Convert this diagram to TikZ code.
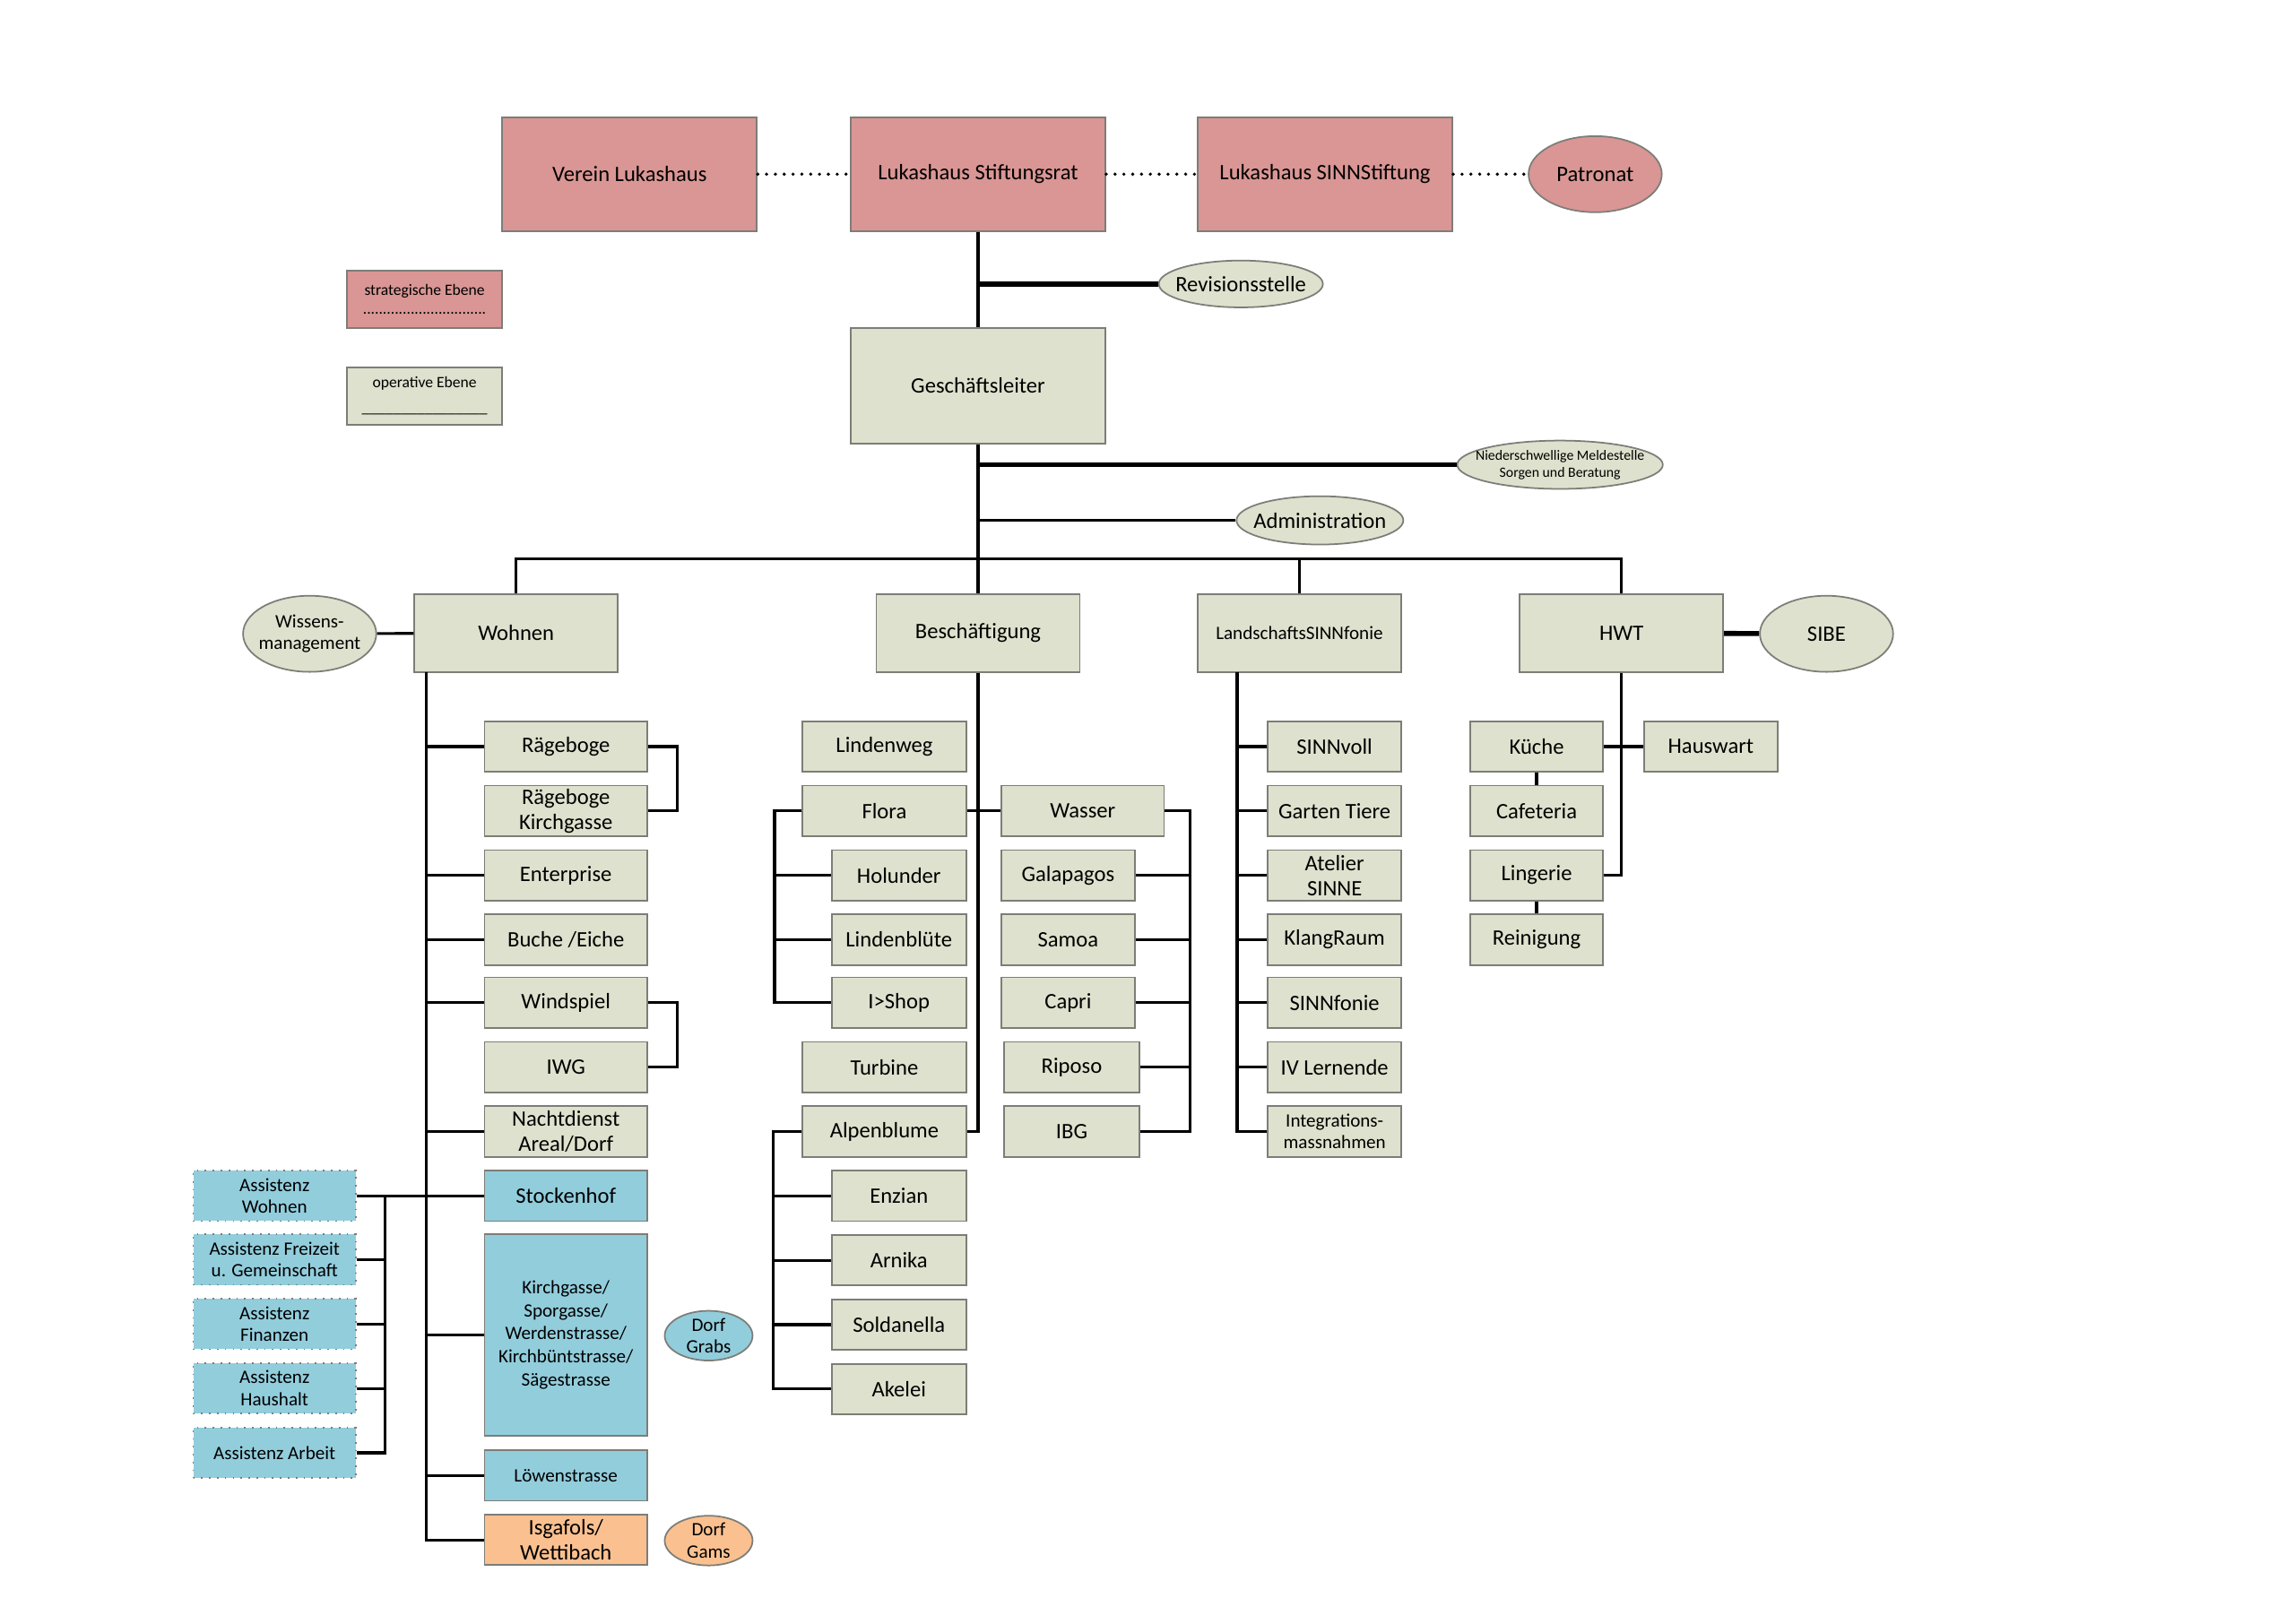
\documentclass[tikz,border=0pt]{standalone}
\usepackage{fontspec}
\setmainfont{Carlito}
\usetikzlibrary{shapes.geometric}
\newcommand{\pxu}{0.016332cm}
\definecolor{stratred}{RGB}{217,150,148}
\definecolor{opgrey}{RGB}{222,225,205}
\definecolor{wohnblue}{RGB}{146,205,220}
\definecolor{gamsorange}{RGB}{250,192,144}
\definecolor{framegrey}{RGB}{125,125,120}
\tikzset{
    %Box and connector styles
    boxdim/.style 2 args={minimum width=#1*\pxu, minimum height=#2*\pxu},
    orgbox/.style={rectangle, draw=framegrey, line width=0.5pt, inner sep=0pt},
    redbox/.style={orgbox, fill=stratred, boxdim={174}{78}},
    headbox/.style={orgbox, fill=opgrey, boxdim={139}{53}},
    opbox/.style={orgbox, fill=opgrey, boxdim={111}{34.5}},
    narrowbox/.style={orgbox, fill=opgrey, boxdim={91}{34.5}},
    bluebox/.style={orgbox, fill=wohnblue, boxdim={111}{34.5}},
    assbox/.style={bluebox, dotted},
    oval/.style={ellipse, draw=framegrey, line width=0.5pt, fill=opgrey, inner ysep=0pt, inner xsep=-5*\pxu, boxdim={91}{52}},
    smalltext/.style={font=\fontsize{6}{7}\selectfont},
    conn/.style={line width=0.9pt},
    boldconn/.style={line width=1.6pt},
    dotline/.style={line width=1.1pt, line cap=round, dash pattern=on 0pt off 2.8pt}
}

\begin{document}
\begin{tikzpicture}[x=\pxu, y=-\pxu, font=\fontsize{7}{8}\selectfont, every text node part/.style={align=center}]

	\fill[white] (0,0) rectangle (1567.5,1108.9);
	\useasboundingbox (0,0) rectangle (1567.5,1108.9);

	% strategic level
	\node (verein) at (430,119) [redbox] {Verein Lukashaus};
	\node (stiftungsrat) at (668,119) [redbox] {Lukashaus Stiftungsrat};
	\node (sinnstiftung) at (905,119) [redbox] {Lukashaus SINNStiftung};
	\node (patronat) at (1089.5,119) [oval, fill=stratred] {Patronat};

	% legend
	\node (legstrat) at (290,204.5) [orgbox, fill=stratred, boxdim={106}{39}, font=\fontsize{5}{6}\selectfont] {strategische Ebene\\...............................};
	\node (legop) at (290,270.5) [orgbox, fill=opgrey, boxdim={106}{39}, font=\fontsize{5}{6}\selectfont] {operative Ebene\\[2pt]\_\_\_\_\_\_\_\_\_\_\_\_\_\_\_\_};

	\node (revision) at (847.5,194) [oval, boxdim={111}{32}] {Revisionsstelle};
	\node (geschaeft) at (668,263.5) [orgbox, fill=opgrey, boxdim={174}{79}] {Geschäftsleiter};
	\node (meldestelle) at (1065.5,317.5) [oval, boxdim={139}{33}, inner xsep=-8*\pxu, font=\fontsize{4.5}{5.5}\selectfont] {Niederschwellige Meldestelle\\Sorgen und Beratung};
	\node (admin) at (901.5,355.5) [oval, boxdim={111}{33}] {Administration};

	% departments
	\node (wohnen) at (352.5,432.5) [headbox] {Wohnen};
	\node (besch) at (668,432.5) [headbox] {Beschäftigung};
	\node (landschaft) at (887.5,432.5) [headbox, smalltext] {LandschaftsSINNfonie};
	\node (hwt) at (1107.5,432.5) [headbox] {HWT};
	\node (wissen) at (211.5,433) [oval, smalltext] {Wissens-\\management};
	\node (sibe) at (1247.5,433) [oval] {SIBE};

	% Wohnen
	\node (raegeboge) at (386.5,510) [opbox] {Rägeboge};
	\node (raegkirch) at (386.5,554) [opbox] {Rägeboge\\Kirchgasse};
	\node (enterprise) at (386.5,598) [opbox] {Enterprise};
	\node (buche) at (386.5,642) [opbox] {Buche /Eiche};
	\node (windspiel) at (386.5,685) [opbox] {Windspiel};
	\node (iwg) at (386.5,729) [opbox] {IWG};
	\node (nachtdienst) at (386.5,773) [opbox] {Nachtdienst\\Areal/Dorf};
	\node (stockenhof) at (386.5,817) [bluebox] {Stockenhof};
	\node (kirchgasse) at (386.5,912) [bluebox, boxdim={111}{138}, font=\fontsize{6}{7.3}\selectfont] {Kirchgasse/\\Sporgasse/\\Werdenstrasse/\\Kirchbüntstrasse/\\Sägestrasse};
	\node (loewen) at (386.5,1008) [bluebox, smalltext] {Löwenstrasse};
	\node (isgafols) at (386.5,1052) [opbox, fill=gamsorange] {Isgafols/\\Wettibach};
	\node (grabs) at (484,912.5) [oval, fill=wohnblue, boxdim={60}{31}, smalltext] {Dorf\\Grabs};
	\node (gams) at (484,1052.5) [oval, fill=gamsorange, boxdim={60}{31}, smalltext] {Dorf\\Gams};

	\node (asswohnen) at (187.5,817) [assbox, smalltext] {Assistenz\\Wohnen};
	\node (assfreizeit) at (187.5,860.5) [assbox, smalltext] {Assistenz Freizeit\\u. Gemeinschaft};
	\node (assfinanzen) at (187.5,904.5) [assbox, smalltext] {Assistenz\\Finanzen};
	\node (asshaushalt) at (187.5,948.5) [assbox, smalltext] {Assistenz\\Haushalt};
	\node (assarbeit) at (187.5,992.5) [assbox, smalltext] {Assistenz Arbeit};

	% Beschaeftigung
	\node (lindenweg) at (604,510) [opbox, boxdim={112}{34.5}] {Lindenweg};
	\node (flora) at (604,554) [opbox, boxdim={112}{34.5}] {Flora};
	\node (holunder) at (614,598) [narrowbox, boxdim={92}{34.5}] {Holunder};
	\node (lindenbluete) at (614,642) [narrowbox, boxdim={92}{34.5}] {Lindenblüte};
	\node (ishop) at (614,685) [narrowbox, boxdim={92}{34.5}] {I>Shop};
	\node (turbine) at (604,729) [opbox, boxdim={112}{34.5}] {Turbine};
	\node (alpenblume) at (604,773) [opbox, boxdim={112}{34.5}] {Alpenblume};
	\node (enzian) at (614,817) [narrowbox, boxdim={92}{34.5}] {Enzian};
	\node (arnika) at (614,861) [narrowbox, boxdim={92}{34.5}] {Arnika};
	\node (soldanella) at (614,905) [narrowbox, boxdim={92}{34.5}] {Soldanella};
	\node (akelei) at (614,949) [narrowbox, boxdim={92}{34.5}] {Akelei};

	\node (wasser) at (739.5,554) [opbox] {Wasser};
	\node (galapagos) at (729.5,598) [narrowbox] {Galapagos};
	\node (samoa) at (729.5,642) [narrowbox] {Samoa};
	\node (capri) at (729.5,685) [narrowbox] {Capri};
	\node (riposo) at (732,729) [narrowbox, boxdim={92}{34.5}] {Riposo};
	\node (ibg) at (732,773) [narrowbox, boxdim={92}{34.5}] {IBG};

	% LandschaftsSINNfonie
	\node (sinnvoll) at (911.5,510) [narrowbox] {SINNvoll};
	\node (garten) at (911.5,554) [narrowbox] {Garten Tiere};
	\node (atelier) at (911.5,598) [narrowbox] {Atelier\\SINNE};
	\node (klang) at (911.5,642) [narrowbox] {KlangRaum};
	\node (sinnfonie) at (911.5,685) [narrowbox] {SINNfonie};
	\node (lernende) at (911.5,729) [narrowbox] {IV Lernende};
	\node (integration) at (911.5,773) [narrowbox, smalltext] {Integrations-\\massnahmen};

	% HWT
	\node (kueche) at (1049.5,510) [narrowbox] {Küche};
	\node (hauswart) at (1168.5,510) [narrowbox] {Hauswart};
	\node (cafeteria) at (1049.5,554) [narrowbox] {Cafeteria};
	\node (lingerie) at (1049.5,598) [narrowbox] {Lingerie};
	\node (reinigung) at (1049.5,642) [narrowbox] {Reinigung};

	% connectors, top
	\draw[dotline] (verein) -- (stiftungsrat);
	\draw[dotline] (stiftungsrat) -- (sinnstiftung);
	\draw[dotline] (sinnstiftung) -- (patronat);
	\draw[conn] (stiftungsrat) -- (geschaeft);
	\draw[boldconn] (stiftungsrat.south |- revision) -- (revision);
	\draw[conn] (geschaeft) -- (besch);
	\draw[boldconn] (geschaeft.south |- meldestelle) -- (meldestelle);
	\draw[conn] (geschaeft.south |- admin) -- (admin);
	\coordinate (bus) at (668,382);
	\draw[conn] (wohnen.north) |- (bus) -| (hwt.north);
	\draw[conn] (landschaft.north) -- (landschaft.north |- bus);
	\draw[conn] (wissen) -- (wohnen);
	\draw[boldconn] (hwt) -- (sibe);

	% connectors, Wohnen
	\coordinate (wtrunk) at (291,459);
	\draw[conn] (wtrunk) |- (isgafols.west);
	\foreach \n in {raegeboge,enterprise,buche,windspiel,nachtdienst,kirchgasse,loewen}
		\draw[conn] (\n.west) -- (\n.west -| wtrunk);
	\draw[conn] (raegeboge.east) -- ++(20,0) |- (raegkirch.east);
	\draw[conn] (windspiel.east) -- ++(20,0) |- (iwg.east);
	\draw[conn] (asswohnen) -- (stockenhof);
	\coordinate (assbus) at (263,817);
	\draw[conn] (assbus) |- (assarbeit.east);
	\foreach \n in {assfreizeit,assfinanzen,asshaushalt}
		\draw[conn] (\n.east) -- (\n.east -| assbus);

	% connectors, Beschaeftigung
	\draw[conn] (besch.south) |- (alpenblume.east);
	\draw[conn] (flora) -- (wasser);
	\coordinate (florabus) at (529,554);
	\draw[conn] (flora.west) -- (florabus) |- (ishop.west);
	\foreach \n in {holunder,lindenbluete}
		\draw[conn] (\n.west) -- (\n.west -| florabus);
	\coordinate (alpbus) at (528,773);
	\draw[conn] (alpenblume.west) -- (alpbus) |- (akelei.west);
	\foreach \n in {enzian,arnika,soldanella}
		\draw[conn] (\n.west) -- (\n.west -| alpbus);
	\coordinate (wasserbus) at (813,554);
	\draw[conn] (wasser.east) -- (wasserbus) |- (ibg.east);
	\foreach \n in {galapagos,samoa,capri,riposo}
		\draw[conn] (\n.east) -- (\n.east -| wasserbus);

	% connectors, LandschaftsSINNfonie
	\coordinate (ltrunk) at (845,459);
	\draw[conn] (ltrunk) |- (integration.west);
	\foreach \n in {sinnvoll,garten,atelier,klang,sinnfonie,lernende}
		\draw[conn] (\n.west) -- (\n.west -| ltrunk);

	% connectors, HWT
	\draw[conn] (hwt.south) |- (lingerie.east);
	\draw[conn] (kueche) -- (hauswart);
	\draw[conn] (kueche) -- (cafeteria);
	\draw[conn] (lingerie) -- (reinigung);

\end{tikzpicture}
\end{document}
